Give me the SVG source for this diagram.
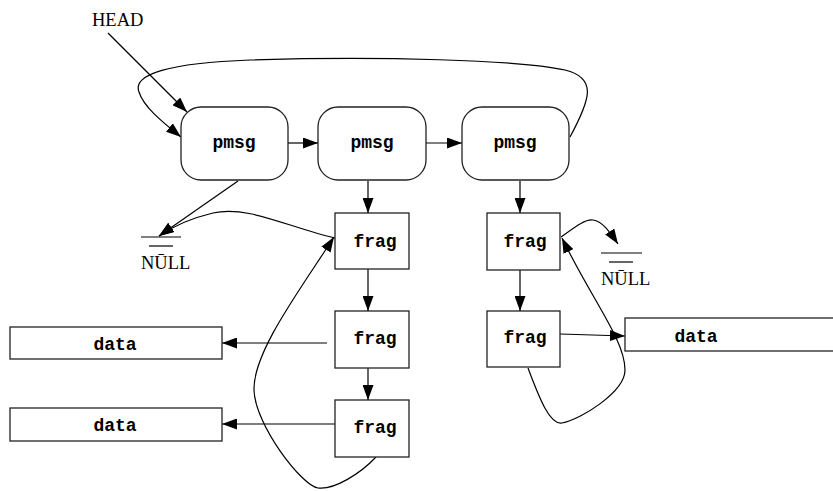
<svg xmlns="http://www.w3.org/2000/svg" width="833" height="491" viewBox="0 0 833 491">
<defs>
<style>
.box{fill:#fff;stroke:#222;stroke-width:1.3}
.lbl{font-family:"Liberation Mono",monospace;font-weight:bold;font-size:18px;text-anchor:middle;fill:#000}
.tm{font-family:"Liberation Serif",serif;font-size:18.5px;fill:#000}
.e{fill:none;stroke:#000;stroke-width:1.2}
.nl{stroke:#000;stroke-width:1.2}
</style>
<marker id="ah" markerUnits="userSpaceOnUse" markerWidth="15" markerHeight="11" viewBox="0 0 15 11" refX="15" refY="5.5" orient="auto">
<path d="M0,0 L15,5.5 L0,11 Z" fill="#000"/>
</marker>
</defs>
<g id="connectors">
<path class="e" d="M108,33 L187,112" marker-end="url(#ah)"/>
<path class="e" d="M570,137 C590,100 598,78 565,70 C520,60 380,56 250,60 C170,63 132,74 139,92 C144,108 165,124 181,137" marker-end="url(#ah)"/>
<path class="e" d="M288,143 L318,143" marker-end="url(#ah)"/>
<path class="e" d="M426,143 L462,143" marker-end="url(#ah)"/>
<path class="e" d="M238,181 L159,236" marker-end="url(#ah)"/>
<path class="e" d="M335,238 C290,228 248,205 213,213 C192,218 172,227 159,236" marker-end="url(#ah)"/>
<path class="e" d="M368,181 L368,213" marker-end="url(#ah)"/>
<path class="e" d="M520,181 L520,213" marker-end="url(#ah)"/>
<path class="e" d="M368,269 L368,311" marker-end="url(#ah)"/>
<path class="e" d="M368,368 L368,400" marker-end="url(#ah)"/>
<path class="e" d="M327,343 L222,343" marker-end="url(#ah)"/>
<path class="e" d="M335,424 L222,424" marker-end="url(#ah)"/>
<path class="e" d="M376,457 C360,474 334,490 318,488 C302,486 255,425 254,390 C253,352 300,290 334,237" marker-end="url(#ah)"/>
<path class="e" d="M520,270 L520,311" marker-end="url(#ah)"/>
<path class="e" d="M560,334 L625,336" marker-end="url(#ah)"/>
<path class="e" d="M528,368 C540,400 550,425 562,423 C580,420 625,392 625,370 C625,340 592,300 562,238" marker-end="url(#ah)"/>
<path class="e" d="M561,237 C575,227 585,219 593,220 C602,221 610,232 618,244" marker-end="url(#ah)"/>
</g>
<g id="head"><text class="tm" x="92" y="26">HEAD</text></g>
<g id="pmsg1"><rect class="box" x="181" y="107" width="107" height="73" rx="20"/><text class="lbl" x="234" y="148">pmsg</text></g>
<g id="pmsg2"><rect class="box" x="318" y="107" width="108" height="73" rx="20"/><text class="lbl" x="372" y="148">pmsg</text></g>
<g id="pmsg3"><rect class="box" x="462" y="107" width="107" height="73" rx="20"/><text class="lbl" x="515" y="148">pmsg</text></g>
<g id="null1"><line class="nl" x1="141" y1="237" x2="181" y2="237"/><line class="nl" x1="149" y1="246" x2="173" y2="246"/><text class="tm" x="141" y="269">NŪLL</text></g>
<g id="null2"><line class="nl" x1="601" y1="253" x2="642" y2="253"/><line class="nl" x1="609" y1="262" x2="633" y2="262"/><text class="tm" x="601" y="285">NŪLL</text></g>
<g id="frag1"><rect class="box" x="335" y="213" width="74" height="56"/><text class="lbl" x="375" y="247">frag</text></g>
<g id="frag2"><rect class="box" x="335" y="311" width="74" height="57"/><text class="lbl" x="375" y="344">frag</text></g>
<g id="frag3"><rect class="box" x="335" y="400" width="74" height="57"/><text class="lbl" x="375" y="433">frag</text></g>
<g id="frag4"><rect class="box" x="487" y="213" width="73" height="57"/><text class="lbl" x="525" y="247">frag</text></g>
<g id="frag5"><rect class="box" x="487" y="311" width="73" height="56"/><text class="lbl" x="525" y="343">frag</text></g>
<g id="data1"><rect class="box" x="10" y="327" width="212" height="32"/><text class="lbl" x="115" y="350">data</text></g>
<g id="data2"><rect class="box" x="10" y="408" width="212" height="33"/><text class="lbl" x="115" y="431">data</text></g>
<g id="data3"><rect class="box" x="625" y="318" width="220" height="33"/><text class="lbl" x="696" y="342">data</text></g>
</svg>
